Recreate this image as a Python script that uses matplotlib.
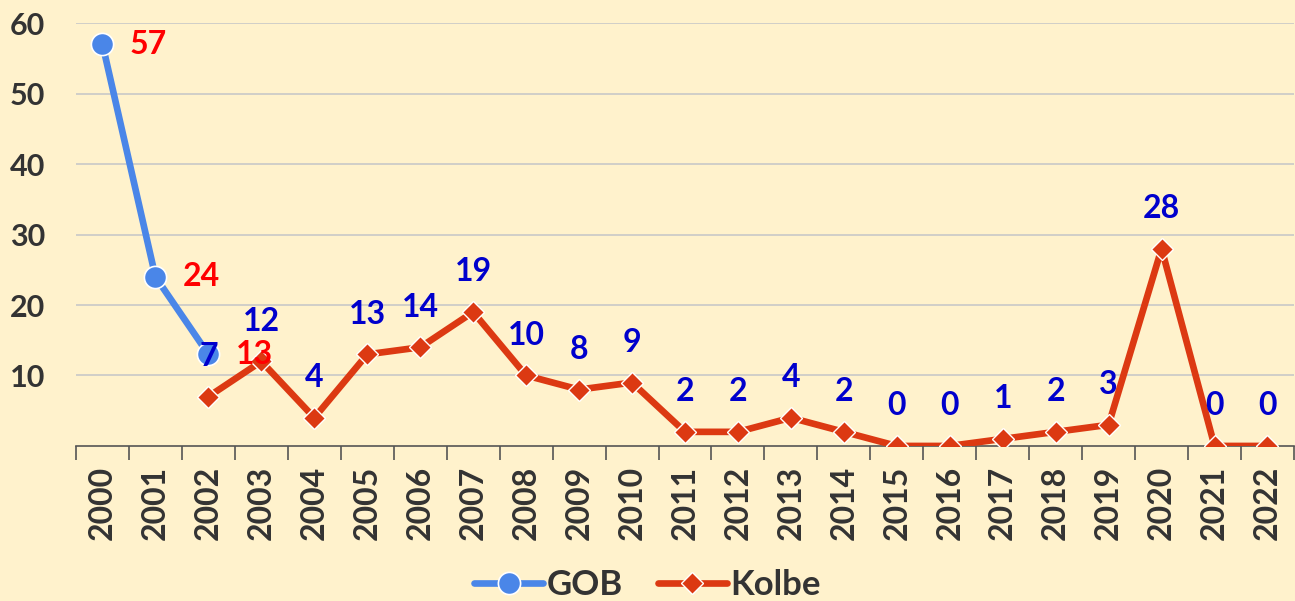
import matplotlib
matplotlib.use("Agg")
import matplotlib.pyplot as plt

plt.rcParams['font.family'] = ['Lato', 'DejaVu Sans']
plt.rcParams['font.weight'] = 'bold'

years = [str(y) for y in range(2000, 2023)]
gob_years = ['2000', '2001', '2002']
gob = [57, 24, 13]
kolbe_years = [str(y) for y in range(2002, 2023)]
kolbe = [7, 12, 4, 13, 14, 19, 10, 8, 9, 2, 2, 4, 2, 0, 0, 1, 2, 3, 28, 0, 0]

bg = '#FFF2CC'
blue = '#4A86E8'
red = '#DC3912'
txt = '#333333'

fig = plt.figure(figsize=(12.95, 6.01), dpi=100, facecolor=bg)
ax = fig.add_axes([0.0587, 0.258, 0.9405, 0.7035], facecolor=bg)

xg = [years.index(y) for y in gob_years]
xk = [years.index(y) for y in kolbe_years]

ax.plot(xg, gob, color=blue, lw=4.8, marker='o', ms=16, mec='white', mew=1.2,
        label='GOB', zorder=4, solid_capstyle='round')
ax.plot(xk, kolbe, color=red, lw=4.8, marker='D', ms=11, mec='white', mew=1.0,
        label='Kolbe', zorder=3, solid_capstyle='round')

for x, v in zip(xg, gob):
    ax.annotate(str(v), (x, v), xytext=(33, 0), textcoords='offset points',
                ha='center', va='center', color='#FF0000', fontsize=23,
                fontweight='bold', zorder=6)
for x, v in zip(xk, kolbe):
    ax.annotate(str(v), (x, v), xytext=(0, 29), textcoords='offset points',
                ha='center', va='center', color='#0000CC', fontsize=23,
                fontweight='bold', zorder=5)

ax.set_xlim(-0.5, len(years) - 0.5)
ax.set_ylim(0, 60)
ax.set_yticks([10, 20, 30, 40, 50, 60])
ax.set_xticks(range(len(years)))
ax.set_xticklabels(years, rotation=90)
ax.set_xticks([i - 0.5 for i in range(len(years) + 1)], minor=True)
ax.tick_params(axis='x', which='major', length=0, pad=14, labelsize=23, labelcolor=txt)
ax.tick_params(axis='x', which='minor', length=10, width=1.2, color='#555555')
ax.tick_params(axis='y', length=0, pad=22, labelsize=22, labelcolor=txt)
for lab in ax.get_xticklabels() + ax.get_yticklabels():
    lab.set_fontweight('bold')

ax.grid(axis='y', color='#C8C8C8', lw=1.2)
ax.set_axisbelow(True)
for s in ['top', 'right', 'left']:
    ax.spines[s].set_visible(False)
ax.spines['bottom'].set_color('#555555')
ax.spines['bottom'].set_linewidth(1.2)

leg = fig.legend(loc='lower center', bbox_to_anchor=(0.5, -0.052), ncol=2,
                 frameon=False, fontsize=25, handlelength=2.0, handletextpad=0.1,
                 columnspacing=1.0)
for t in leg.get_texts():
    t.set_color(txt)
    t.set_fontweight('bold')

fig.savefig('out.png', dpi=100, facecolor=bg)
